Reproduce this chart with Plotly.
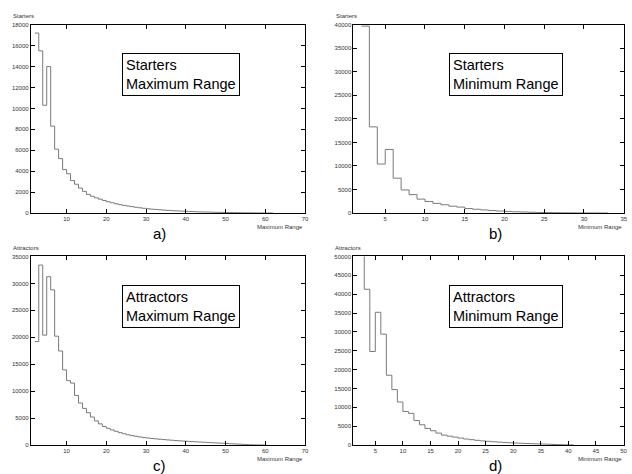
import plotly.graph_objects as go

W, H = 632, 474

# ---- data (bin start, counts; bins are 1 unit wide) ----
a_bins = list(range(2, 62))
a_counts = [17200, 15500, 10300, 14000, 8300, 6100, 5200, 4150, 3750, 3100,
            2750, 2380, 2070, 1780, 1600, 1450, 1320, 1200, 1080, 980,
            880, 800, 730, 670, 610, 550, 500, 450, 410, 370,
            340, 310, 280, 250, 230, 210, 190, 170, 155, 140,
            125, 110, 100, 90, 80, 70, 62, 55, 48, 42,
            36, 30, 25, 20, 15, 10, 8, 5, 3, 2]

b_bins = list(range(2, 33))
b_counts = [39700, 18300, 10400, 13500, 7400, 4900, 3900, 2950, 2450, 2050,
            1750, 1450, 1250, 950, 800, 650, 520, 420, 340, 270,
            210, 160, 120, 90, 65, 45, 30, 20, 12, 6, 3]

c_bins = list(range(2, 60))
c_counts = [19200, 33400, 20400, 31250, 28800, 20200, 17450, 13950, 11950, 11500,
            9200, 7800, 6800, 6000, 5200, 4480, 3930, 3440, 3100, 2800,
            2550, 2300, 2100, 1900, 1750, 1620, 1500, 1380, 1300, 1220,
            1150, 1080, 1010, 950, 890, 830, 780, 730, 690, 650,
            600, 560, 520, 480, 440, 400, 360, 320, 280, 240,
            200, 160, 120, 80, 50, 30, 15, 8]

d_bins = list(range(2, 41))
d_counts = [56000, 41300, 24800, 35200, 29400, 18500, 14700, 11400, 8900, 8400,
            6500, 5370, 4400, 3780, 3160, 2630, 2350, 2100, 1850, 1600,
            1420, 1250, 1100, 980, 870, 770, 680, 600, 530, 470,
            410, 360, 310, 260, 210, 160, 110, 60, 25]

x_ticks_max = [10, 20, 30, 40, 50, 60, 70]
x_ticks_b = [5, 10, 15, 20, 25, 30, 35]
x_ticks_d = [5, 10, 15, 20, 25, 30, 35, 40, 45, 50]

panels = [
    dict(bins=a_bins, counts=a_counts, xr=[1, 70], yr=[0, 18000], ydt=2000, xt=x_ticks_max,
         px=(31, 307), py=(22, 212.7), ylab="Starters", xlab="Maximum Range",
         box=["Starters", "Maximum Range"], boxpos=(123, 51), tag="a)", tagx=161),
    dict(bins=b_bins, counts=b_counts, xr=[1, 35], yr=[0, 40000], ydt=5000, xt=x_ticks_b,
         px=(355.7, 627.7), py=(22, 212.7), ylab="Starters", xlab="Minimum Range",
         box=["Starters", "Minimum Range"], boxpos=(452, 51), tag="b)", tagx=499),
    dict(bins=c_bins, counts=c_counts, xr=[1, 70], yr=[0, 35000], ydt=5000, xt=x_ticks_max,
         px=(31, 307), py=(256.7, 447.7), ylab="Attractors", xlab="Maximum Range",
         box=["Attractors", "Maximum Range"], boxpos=(123, 286), tag="c)", tagx=161),
    dict(bins=d_bins, counts=d_counts, xr=[1, 50], yr=[0, 50000], ydt=5000, xt=x_ticks_d,
         px=(355.5, 627.5), py=(256.7, 447.7), ylab="Attractors", xlab="Minimum Range",
         box=["Attractors", "Minimum Range"], boxpos=(452, 286), tag="d)", tagx=499),
]

FONT = "Liberation Sans, Arial, Helvetica, sans-serif"
fig = go.Figure()
annotations = []
layout = {}

for i, p in enumerate(panels, start=1):
    xs = list(p["bins"]) + [p["bins"][-1] + 1]
    ys = list(p["counts"]) + [p["counts"][-1]]
    xa = "x" if i == 1 else f"x{i}"
    ya = "y" if i == 1 else f"y{i}"
    fig.add_trace(go.Scatter(x=xs, y=ys, mode="lines", line=dict(color="#7a7a7a", width=1, shape="hv"),
                             xaxis=xa, yaxis=ya, showlegend=False, hoverinfo="skip"))
    x0, x1 = p["px"]
    y0, y1 = p["py"]
    common = dict(showline=True, mirror="ticks", linecolor="black", linewidth=1,
                  ticks="inside", ticklen=4, tickcolor="black", tickwidth=1,
                  showgrid=False, zeroline=False, tickformat="d",
                  tickfont=dict(family=FONT, size=6, color="#333"))
    layout["xaxis" if i == 1 else f"xaxis{i}"] = dict(
        domain=[x0 / W, x1 / W], range=p["xr"], anchor=ya, tickvals=p["xt"], **common)
    layout["yaxis" if i == 1 else f"yaxis{i}"] = dict(
        domain=[1 - y1 / H, 1 - y0 / H], range=p["yr"], anchor=xa,
        tickmode="linear", tick0=0, dtick=p["ydt"], **common)
    # y label
    annotations.append(dict(text=p["ylab"], xref="paper", yref="paper",
                            x=(x0 - 20) / W, y=1 - (y0 - 9) / H, xanchor="left", yanchor="middle",
                            showarrow=False, font=dict(family=FONT, size=6, color="#333")))
    # x label
    annotations.append(dict(text=p["xlab"], xref="paper", yref="paper",
                            x=x1 / W, y=1 - (y1 + 14) / H, xanchor="right", yanchor="middle",
                            showarrow=False, font=dict(family=FONT, size=6, color="#333")))
    # panel tag
    annotations.append(dict(text=p["tag"], xref="paper", yref="paper",
                            x=p["tagx"] / W, y=1 - (y1 + 21) / H, xanchor="center", yanchor="middle",
                            showarrow=False, font=dict(family=FONT, size=15, color="black")))
    # boxed text
    bx, by = p["boxpos"]
    annotations.append(dict(text="<br>".join(p["box"]), xref="paper", yref="paper",
                            x=bx / W, y=1 - by / H, xanchor="left", yanchor="top", align="left",
                            showarrow=False, bordercolor="black", borderwidth=1, borderpad=3,
                            bgcolor="white", font=dict(family=FONT, size=14.5, color="black")))

fig.update_layout(width=W, height=H, margin=dict(l=0, r=0, t=0, b=0),
                  paper_bgcolor="white", plot_bgcolor="white",
                  annotations=annotations, **layout)
fig.write_html("out.html")
